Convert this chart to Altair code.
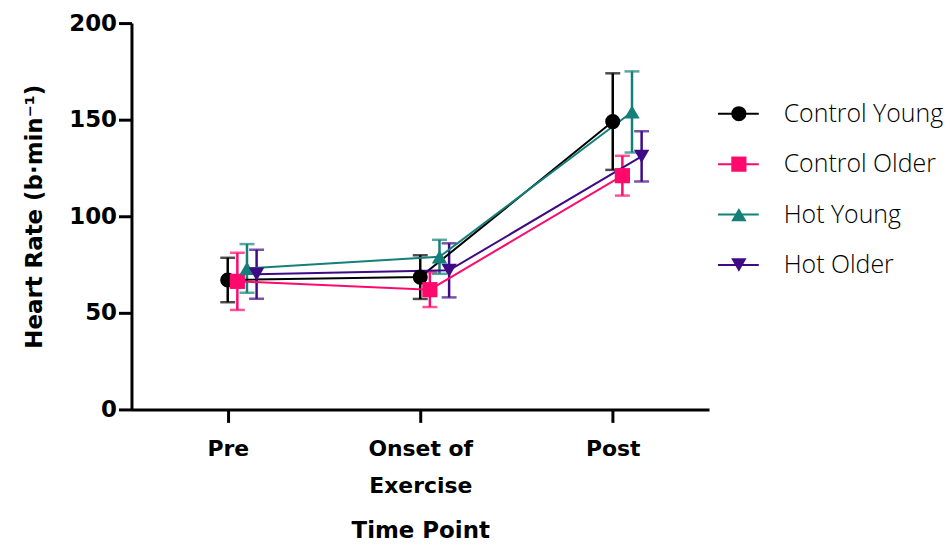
import altair as alt
import pandas as pd

times = ["Pre", "Onset of Exercise", "Post"]
series = ["Control Young", "Control Older", "Hot Young", "Hot Older"]
colors = ["#000000", "#FF0A6C", "#148079", "#3F0A86"]
shapes = ["circle", "square", "triangle-up", "triangle-down"]

cy_mean = [67, 68.5, 149]
co_mean = [66.3, 62, 121]
hy_mean = [73, 79, 154]
ho_mean = [70, 72, 131]

cy_err = [11.5, 11.3, 25]
co_err = [14.8, 9, 10.3]
hy_err = [12.6, 8.8, 21]
ho_err = [12.7, 14, 13]

means = [cy_mean, co_mean, hy_mean, ho_mean]
errs = [cy_err, co_err, hy_err, ho_err]

rows = []
for s, m, e in zip(series, means, errs):
    for t, mv, ev in zip(times, m, e):
        rows.append({"time": t, "series": s, "mean": mv, "lo": mv - ev, "hi": mv + ev})
df = pd.DataFrame(rows)
leg = pd.DataFrame({"series": series})

heavy = "DejaVu Sans"

x = alt.X("time:N", sort=times, title="Time Point",
          scale=alt.Scale(type="point", padding=0.5),
          axis=alt.Axis(labelAngle=0,
                        labelExpr="datum.value == 'Onset of Exercise' ? ['Onset of', 'Exercise'] : datum.label"))
xo = alt.XOffset("series:N", sort=series,
                 scale=alt.Scale(type="point", range=[0, 29], padding=0))
color = alt.Color("series:N", sort=series,
                  scale=alt.Scale(domain=series, range=colors), legend=None)
shape = alt.Shape("series:N", sort=series,
                  scale=alt.Scale(domain=series, range=shapes), legend=None)
size = alt.Size("series:N", sort=series,
                scale=alt.Scale(domain=series, range=[230, 240, 330, 330]), legend=None)
y = alt.Y("mean:Q", title="Heart Rate (b·min⁻¹)",
          scale=alt.Scale(domain=[0, 200], nice=False),
          axis=alt.Axis(values=[0, 50, 100, 150, 200]))

base = alt.Chart(df)

rules = base.mark_rule(strokeWidth=2.5).encode(
    x=x, xOffset=xo, y=alt.Y("lo:Q"), y2="hi:Q", color=color)
caps_hi = base.mark_tick(orient="horizontal", size=15, thickness=2.5).encode(
    x=x, xOffset=xo, y="hi:Q", color=color)
caps_lo = base.mark_tick(orient="horizontal", size=15, thickness=2.5).encode(
    x=x, xOffset=xo, y="lo:Q", color=color)
lines = base.mark_line(strokeWidth=2).encode(
    x=x, xOffset=xo, y=y, color=color, detail="series:N")
points = base.mark_point(filled=True, opacity=1).encode(
    x=x, xOffset=xo, y=y, color=color, shape=shape, size=size)

main = alt.layer(rules, caps_hi, caps_lo, lines, points)

ly = alt.Y("series:N", sort=series, axis=None,
           scale=alt.Scale(type="point", range=[91, 243], padding=0))
leg_base = alt.Chart(leg)
leg_line = leg_base.mark_rule(strokeWidth=2).encode(
    y=ly, x=alt.value(589), x2=alt.value(630), color=color)
leg_pt = leg_base.mark_point(filled=True, opacity=1).encode(
    y=ly, x=alt.value(610), color=color, shape=shape, size=size)
leg_txt = leg_base.mark_text(align="left", baseline="middle", font="Open Sans",
                             fontWeight=300, fontSize=25, color="#000000").encode(
    y=ly, x=alt.value(655), text="series:N")
legend = alt.layer(leg_line, leg_pt, leg_txt)

chart = alt.layer(main, legend).resolve_scale(y="independent").properties(
    width=580, height=388, padding={"left": 15, "top": 3, "right": 0, "bottom": 0}
).configure_view(stroke=None).configure_axis(
    grid=False, domainColor="#000000", domainWidth=3, tickColor="#000000",
    tickWidth=3, tickSize=13, labelFont=heavy, labelFontWeight="bold",
    labelFontSize=23, labelColor="#000000", titleFont=heavy, titleFontWeight="bold",
    titleFontSize=23, titleColor="#000000", labelPadding=2, labelLineHeight=37
).configure_axisY(titlePadding=22).configure_axisX(
    titlePadding=24, labelPadding=16, labelFontSize=22)

chart.save("out.html", embed_options={"renderer": "svg", "actions": False})
